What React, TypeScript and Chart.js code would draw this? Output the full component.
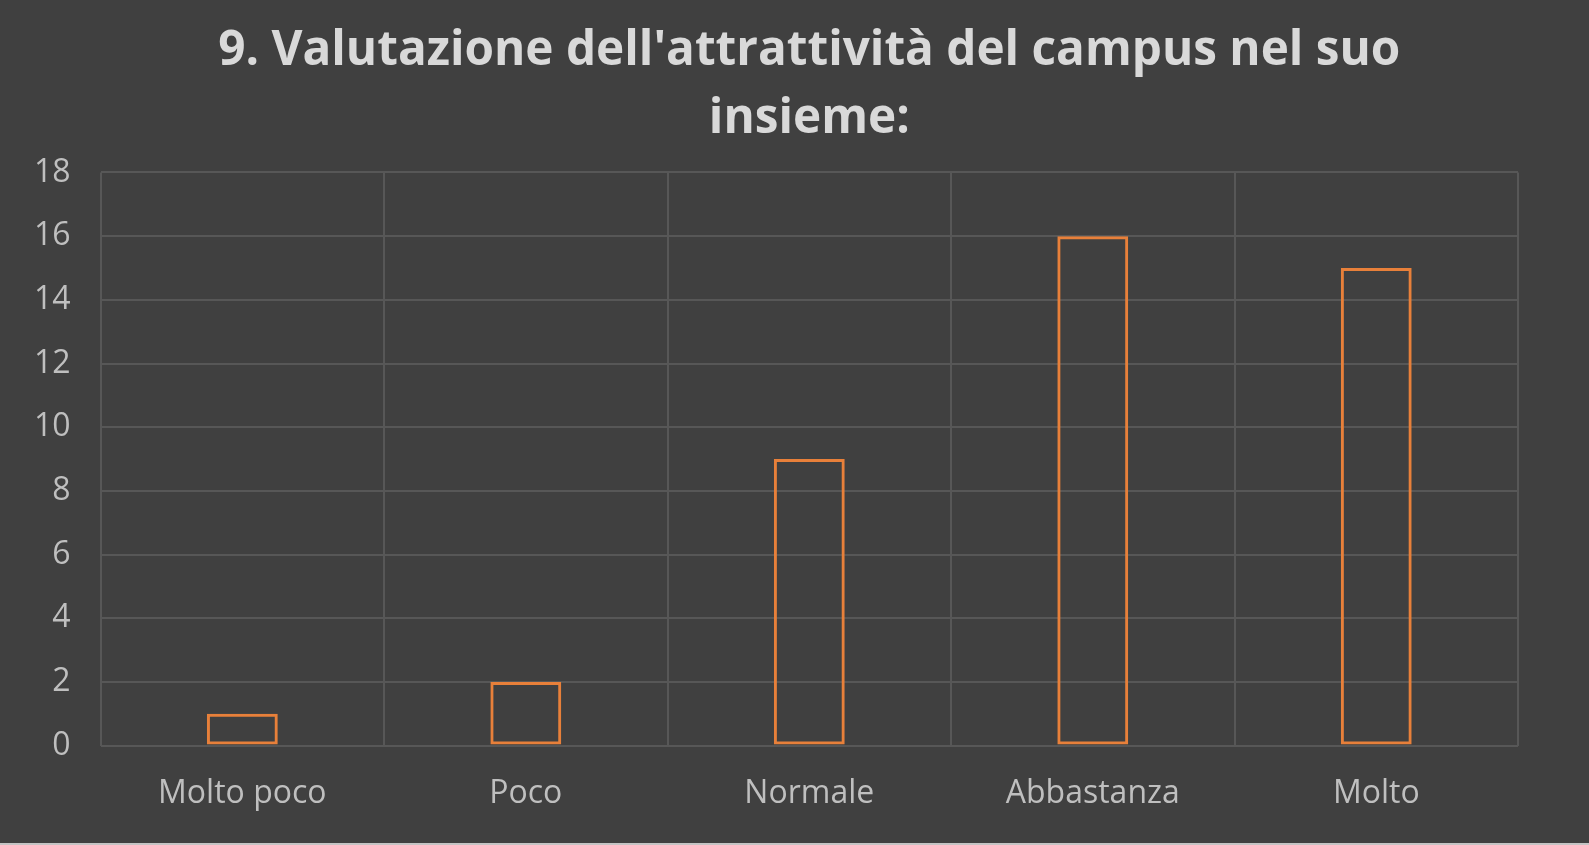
import React, { useEffect, useRef } from "react";
import { Chart, registerables } from "chart.js";

Chart.register(...registerables);

const categories = ["Molto poco", "Poco", "Normale", "Abbastanza", "Molto"];
const values = [1, 2, 9, 16, 15];
const titleLines = ["9. Valutazione dell'attrattività del campus nel suo", "insieme:"];

export default function App() {
  const ref = useRef<HTMLCanvasElement | null>(null);
  useEffect(() => {
    document.body.style.margin = "0";
    document.body.style.background = "#404040";
    const ctx = ref.current!;
    const chart = new Chart(ctx, {
      type: "bar",
      data: {
        labels: categories,
        datasets: [
          {
            data: values,
            backgroundColor: "rgba(0,0,0,0)",
            borderColor: "#E8803A",
            borderWidth: 3,
            borderSkipped: false,
            barPercentage: 0.25,
            categoryPercentage: 1,
          },
        ],
      },
      options: {
        animation: false,
        responsive: false,
        maintainAspectRatio: false,
        layout: { padding: { left: 4, right: 71, top: 0, bottom: 0 } },
        plugins: {
          legend: { display: false },
          tooltip: { enabled: false },
          title: {
            display: true,
            fullSize: false,
            text: titleLines,
            color: "#D9D9D9",
            font: { family: "Open Sans", size: 47.7, weight: "bold", lineHeight: 1.42 },
            padding: { top: 18, bottom: 19 },
          },
        },
        scales: {
          x: {
            offset: true,
            grid: { display: true, offset: true, color: "#575757", lineWidth: 2, drawTicks: false },
            border: { display: false },
            ticks: { color: "#BFBFBF", font: { family: "Open Sans", size: 32 }, padding: 29.5 },
          },
          y: {
            min: 0,
            max: 18,
            ticks: { stepSize: 2, color: "#BFBFBF", font: { family: "Open Sans", size: 32 }, padding: 30 },
            grid: { color: "#575757", lineWidth: 2, drawTicks: false },
            border: { display: false },
          },
        },
      },
    });
    return () => chart.destroy();
  }, []);
  return (
    <div style={{ width: 1589, height: 843, background: "#404040", borderBottom: "2px solid #C4C4C4" }}>
      <canvas ref={ref} width={1589} height={843} style={{ display: "block" }} />
    </div>
  );
}
